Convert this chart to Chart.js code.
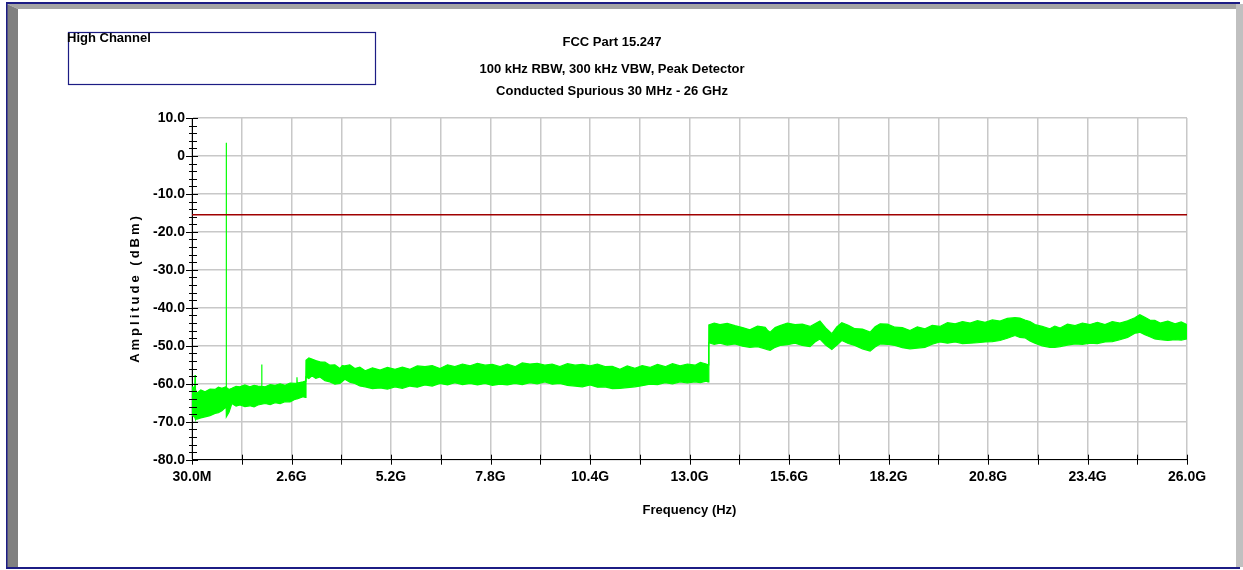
<!DOCTYPE html>
<html>
<head>
<meta charset="utf-8">
<title>FCC Part 15.247 - High Channel</title>
<script src="https://cdn.jsdelivr.net/npm/chart.js@4.4.1/dist/chart.umd.min.js"></script>
<style>
  html, body { margin: 0; padding: 0; background: #fff; }
</style>
</head>
<body>
<canvas id="specChart" width="1243" height="570"></canvas>
<script>
// frequency points (GHz), with upper / lower edge of the noise band (dBm)
var freqGHz = [
  0.03, 0.10, 0.11, 0.12, 0.16, 0.26, 0.37, 0.50, 0.63, 0.72, 0.81, 0.91, 0.922, 0.925, 0.928, 0.996, 1.07, 1.18, 1.28, 1.41, 1.54, 1.65, 1.75, 1.845, 1.85, 1.855, 1.94, 2.07, 2.20, 2.33, 2.46, 2.59, 2.72, 2.765, 2.77, 2.775, 2.93, 2.99,
  3.005, 3.08, 3.16, 3.26, 3.37, 3.50, 3.63, 3.76, 3.89, 3.95, 4.02, 4.15, 4.28, 4.41, 4.55, 4.74, 4.94, 5.13, 5.33, 5.52, 5.72, 5.91, 6.11, 6.30, 6.50, 6.70, 6.89, 7.09, 7.29, 7.48,
  7.68, 7.87, 8.07, 8.26, 8.46, 8.65, 8.85, 9.04, 9.24, 9.43, 9.63, 9.83, 10.03, 10.22, 10.42, 10.61, 10.81, 11.00, 11.20, 11.39, 11.59, 11.78, 11.98, 12.18, 12.38, 12.57, 12.77, 12.96, 13.16, 13.30, 13.45, 13.50,
  13.52, 13.66, 13.81, 14.00, 14.20, 14.40, 14.59, 14.79, 14.99, 15.05, 15.12, 15.25, 15.38, 15.57, 15.77, 15.96, 16.16, 16.29, 16.42, 16.57, 16.73, 16.86, 16.99, 17.16, 17.33, 17.53, 17.73, 17.86, 17.99, 18.18,
  18.38, 18.57, 18.77, 18.96, 19.16, 19.35, 19.55, 19.75, 19.95, 20.14, 20.34, 20.53, 20.73, 20.92, 21.12, 21.31, 21.51, 21.64, 21.77, 21.90, 22.03, 22.22, 22.42, 22.55, 22.69, 22.88, 23.08, 23.27, 23.47, 23.66,
  23.86, 24.05, 24.25, 24.45, 24.64, 24.70, 24.77, 24.90, 25.03, 25.16, 25.30, 25.50, 25.69, 25.85, 26.00
];
var traceUpper = [
  -60.8, -61.0, -57.7, -61.5, -62.5, -61.6, -62.1, -61.4, -61.5, -60.9, -61.2, -60.8, -60.8, 3.5, -61.0, -61.5, -61.2, -60.7, -60.8, -60.3, -60.8, -60.4, -60.6, -60.7, -54.9, -60.7, -60.8, -60.2, -60.4, -60.0, -60.4, -59.8, -59.9, -59.8, -58.3, -59.8, -59.5, -59.3,
  -53.8, -53.2, -53.5, -53.9, -54.2, -54.3, -55.1, -55.0, -56.0, -55.2, -55.3, -55.0, -56.0, -55.6, -56.6, -55.8, -56.4, -55.7, -56.2, -55.6, -56.2, -55.3, -55.5, -55.2, -56.0, -55.0, -55.5, -54.8, -55.3, -54.6,
  -55.1, -54.9, -55.5, -54.8, -55.5, -54.5, -54.8, -54.6, -55.1, -54.8, -55.5, -54.7, -55.1, -54.9, -55.3, -54.8, -55.5, -55.4, -56.2, -55.3, -55.9, -55.2, -55.7, -54.9, -55.5, -54.7, -55.3, -54.8, -55.1, -54.4, -54.8, -55.0,
  -44.5, -44.0, -44.4, -44.1, -44.7, -45.2, -45.8, -44.8, -45.1, -45.9, -46.4, -45.2, -44.7, -44.0, -44.4, -44.3, -44.9, -44.2, -43.5, -45.3, -46.8, -45.0, -43.9, -44.6, -45.5, -45.6, -46.4, -45.0, -44.2, -44.3,
  -45.1, -45.2, -46.0, -45.0, -45.5, -44.6, -44.9, -43.9, -44.2, -43.6, -44.0, -43.4, -43.8, -43.2, -43.5, -42.8, -42.6, -42.7, -43.2, -43.6, -44.4, -44.9, -45.5, -44.8, -45.3, -44.3, -44.7, -44.0, -44.4, -43.8,
  -44.4, -43.6, -44.0, -43.4, -42.6, -42.2, -41.8, -42.5, -43.2, -43.3, -44.0, -43.5, -44.2, -43.7, -44.4
];
var traceLower = [
  -68.2, -68.8, -69.0, -69.3, -69.3, -69.0, -68.7, -68.4, -67.8, -67.6, -67.1, -66.2, -66.5, -66.8, -68.7, -67.5, -65.2, -65.9, -65.6, -66.0, -65.8, -66.1, -65.6, -65.4, -65.4, -65.4, -65.2, -65.5, -65.0, -65.2, -64.7, -64.8, -64.1, -64.0, -64.0, -64.0, -63.4, -63.6,
  -58.2, -58.6, -57.9, -58.6, -58.2, -59.2, -59.5, -60.1, -59.9, -59.4, -58.8, -59.6, -59.9, -60.6, -60.8, -61.3, -61.1, -61.4, -60.8, -61.2, -60.6, -60.9, -60.3, -60.6, -59.9, -60.3, -59.7, -60.2, -59.9, -60.3,
  -59.9, -60.4, -60.1, -60.3, -59.9, -60.2, -59.7, -60.0, -59.5, -60.1, -59.9, -60.4, -60.6, -60.8, -60.3, -60.9, -60.8, -61.3, -61.2, -61.0, -60.8, -60.5, -60.1, -60.2, -59.7, -60.0, -59.5, -59.8, -59.5, -59.7, -59.3, -59.5,
  -49.2, -49.6, -49.3, -49.8, -49.5, -50.1, -50.4, -50.2, -50.8, -51.0, -51.2, -50.4, -49.9, -49.7, -49.3, -49.9, -50.2, -49.0, -48.2, -49.8, -51.0, -49.8, -48.6, -49.4, -49.9, -50.8, -51.4, -50.3, -49.5, -49.6,
  -49.9, -50.5, -50.8, -50.6, -50.4, -49.6, -49.0, -49.3, -49.0, -49.4, -49.3, -49.2, -49.0, -48.9, -48.6, -48.0, -47.3, -47.8, -47.9, -48.7, -49.3, -50.0, -50.4, -50.4, -50.2, -49.8, -49.5, -49.6, -49.3, -49.4,
  -49.0, -48.9, -48.4, -47.8, -46.7, -46.6, -46.4, -47.1, -47.6, -48.2, -48.4, -48.6, -48.4, -48.5, -48.2
];
var limitDbm = -15.5;

var xTickValues = [0.03, 2.627, 5.224, 7.821, 10.418, 13.015, 15.612, 18.209, 20.806, 23.403, 26.0];
var xTickLabels = ["30.0M", "2.6G", "5.2G", "7.8G", "10.4G", "13.0G", "15.6G", "18.2G", "20.8G", "23.4G", "26.0G"];
var yTickValues = [10, 0, -10, -20, -30, -40, -50, -60, -70, -80];
var yTickLabels = ["10.0", "0", "-10.0", "-20.0", "-30.0", "-40.0", "-50.0", "-60.0", "-70.0", "-80.0"];

var titleText = "FCC Part 15.247";
var subtitleText = ["100 kHz RBW, 300 kHz VBW, Peak Detector", "Conducted Spurious 30 MHz - 26 GHz"];
var boxLabel = "High Channel";

var sans = "'Liberation Sans', Arial, sans-serif";
var navy = '#1c1c84';

// grid every half major step
var xGridValues = [];
xTickValues.forEach(function (v, i) {
    xGridValues.push(v);
    if (i < xTickValues.length - 1) xGridValues.push((v + xTickValues[i + 1]) / 2);
});

function pts(arr) {
    return freqGHz.map(function (f, i) { return {x: f, y: arr[i]}; });
}

var framePlugin = {
    id: 'frame',
    beforeDraw: function (chart) {
        var c = chart.ctx;
        c.save();
        c.fillStyle = '#ffffff';
        c.fillRect(0, 0, chart.width, chart.height);
        // top bevel
        c.fillStyle = '#a4a4a4';
        c.beginPath();
        c.moveTo(7, 4); c.lineTo(1236, 4); c.lineTo(1236, 9); c.lineTo(18, 9);
        c.closePath(); c.fill();
        // left bevel
        c.fillStyle = '#808080';
        c.beginPath();
        c.moveTo(7, 4); c.lineTo(18, 9); c.lineTo(18, 567); c.lineTo(7, 567);
        c.closePath(); c.fill();
        // right strip
        c.fillStyle = '#c0c0c0';
        c.fillRect(1236, 4, 7, 563);
        // navy outline
        c.fillStyle = navy;
        c.fillRect(6, 2, 1234, 2);
        c.fillRect(6, 2, 1.5, 567);
        c.fillRect(6, 567, 1234, 2);
        c.restore();
    },
    afterDraw: function (chart) {
        var c = chart.ctx;
        var xs = chart.scales.x, ys = chart.scales.y;
        var x0 = chart.chartArea.left, yb = chart.chartArea.bottom;
        c.save();
        c.strokeStyle = '#000';
        c.lineWidth = 1;
        c.beginPath();
        ys.ticks.forEach(function (t) {
            var p = Math.round(ys.getPixelForValue(t.value)) + 0.5;
            var major = t.value % 10 === 0;
            c.moveTo(x0 - (major ? 6 : 3), p);
            c.lineTo(x0 + (major ? 6 : 5), p);
        });
        xs.ticks.forEach(function (t) {
            var p = Math.round(xs.getPixelForValue(t.value)) + 0.5;
            c.moveTo(p, yb - 5);
            c.lineTo(p, yb + 5);
        });
        c.stroke();

        // label box top-left
        c.strokeStyle = navy;
        c.lineWidth = 1.2;
        c.strokeRect(68.5, 32.5, 307, 52);
        c.fillStyle = '#000';
        c.font = 'bold 13px ' + sans;
        c.textBaseline = 'top';
        c.textAlign = 'left';
        c.fillText(boxLabel, 67, 32);

        // y axis title, letter spaced
        c.translate(135, 288);
        c.rotate(-Math.PI / 2);
        c.font = 'bold 13px ' + sans;
        if ('letterSpacing' in c) c.letterSpacing = '3px';
        c.textAlign = 'center';
        c.textBaseline = 'middle';
        c.fillText('Amplitude (dBm)', 0, 0);
        c.restore();
    }
};

var tickFont = {family: sans, size: 14, weight: 'bold'};
var headFont = {family: sans, size: 13, weight: 'bold'};

var ctx = document.getElementById('specChart').getContext('2d');
new Chart(ctx, {
    type: 'line',
    data: {
        datasets: [
            {
                label: 'Limit',
                data: [{x: xTickValues[0], y: limitDbm}, {x: xTickValues[xTickValues.length - 1], y: limitDbm}],
                borderColor: '#a00000',
                borderWidth: 1.5,
                pointRadius: 0,
                fill: false
            },
            {
                label: 'Peak upper',
                data: pts(traceUpper),
                borderColor: '#00ff00',
                backgroundColor: '#00ff00',
                borderWidth: 1.2,
                pointRadius: 0,
                tension: 0,
                fill: false
            },
            {
                label: 'Peak lower',
                data: pts(traceLower),
                borderColor: '#00ff00',
                backgroundColor: '#00ff00',
                borderWidth: 1.2,
                pointRadius: 0,
                tension: 0,
                fill: 1
            }
        ]
    },
    options: {
        responsive: false,
        animation: false,
        layout: {padding: {left: 37, right: 56, top: 0, bottom: 51.6}},
        plugins: {
            legend: {display: false},
            tooltip: {enabled: false},
            title: {
                display: true,
                text: titleText,
                color: '#000',
                font: Object.assign({lineHeight: '16.8px'}, headFont),
                padding: {top: 33.6, bottom: 0}
            },
            subtitle: {
                display: true,
                text: subtitleText,
                color: '#000',
                font: Object.assign({lineHeight: '22px'}, headFont),
                padding: {top: 7.6, bottom: 16}
            }
        },
        scales: {
            x: {
                type: 'linear',
                min: xTickValues[0],
                max: xTickValues[xTickValues.length - 1],
                afterBuildTicks: function (scale) {
                    scale.ticks = xGridValues.map(function (v) { return {value: v}; });
                },
                afterFit: function (scale) { scale.height = 58.7; },
                ticks: {
                    autoSkip: false,
                    maxRotation: 0,
                    padding: 9.1,
                    color: '#000',
                    font: tickFont,
                    callback: function (value, index) {
                        return index % 2 === 0 ? xTickLabels[index / 2] : '';
                    }
                },
                grid: {color: '#c8c8c8', lineWidth: 1.5, drawTicks: false},
                border: {display: true, color: '#000', width: 1},
                title: {
                    display: true,
                    text: 'Frequency (Hz)',
                    color: '#000',
                    font: Object.assign({lineHeight: '16.8px'}, headFont),
                    padding: {top: 0, bottom: 0}
                }
            },
            y: {
                min: -80,
                max: 10,
                afterFit: function (scale) { scale.width = 155; },
                ticks: {
                    stepSize: 2,
                    autoSkip: false,
                    padding: 7,
                    color: '#000',
                    font: tickFont,
                    callback: function (value) {
                        var i = yTickValues.indexOf(value);
                        return i >= 0 ? yTickLabels[i] : '';
                    }
                },
                grid: {
                    drawTicks: false,
                    lineWidth: 1.5,
                    color: function (c) {
                        return c.tick && c.tick.value % 10 === 0 ? '#c8c8c8' : 'rgba(0,0,0,0)';
                    }
                },
                border: {display: true, color: '#000', width: 1}
            }
        }
    },
    plugins: [framePlugin]
});
</script>
</body>
</html>
